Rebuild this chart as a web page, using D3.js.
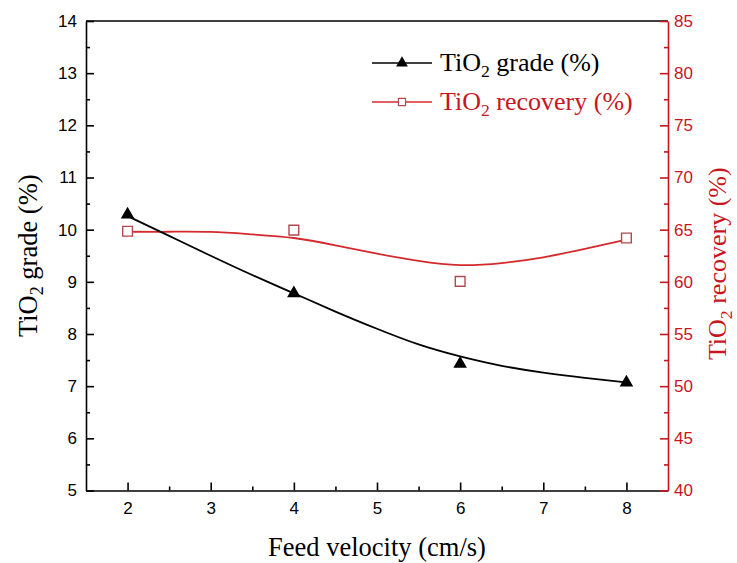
<!DOCTYPE html>
<html><head><meta charset="utf-8">
<script src="https://cdn.jsdelivr.net/npm/d3@7"></script>
<style>body{margin:0;background:#fff}svg{display:block}
.serif{font-family:'Liberation Serif','Times New Roman',Times,serif}
.sans{font-family:'Liberation Sans',Arial,Helvetica,sans-serif}</style>
</head><body>
<svg id="c" width="737" height="563"></svg>
<script>
// ---- data ----
const feedVelocity = [2, 4, 6, 8];
const tio2Grade = [10.29, 8.78, 7.43, 7.07];
const tio2Recovery = [64.85, 64.95, 60.05, 64.2];
// fitted curves
const fitX = [2, 2.5, 3, 3.5, 4, 4.5, 5, 5.5, 6, 6.5, 7, 7.5, 8];
const gradeFit = [10.26, 9.88, 9.5, 9.13, 8.78, 8.43, 8.1, 7.8, 7.57, 7.39, 7.26, 7.16, 7.07];
const recoveryFit = [64.8, 64.8, 64.78, 64.55, 64.2, 63.5, 62.7, 62.0, 61.6, 61.8, 62.35, 63.15, 64.05];
const xTicks = [2, 3, 4, 5, 6, 7, 8];
const xMinor = [2.5, 3.5, 4.5, 5.5, 6.5, 7.5];
const yLeftTicks = [5, 6, 7, 8, 9, 10, 11, 12, 13, 14];
const yLeftMinor = [5.5, 6.5, 7.5, 8.5, 9.5, 10.5, 11.5, 12.5, 13.5];
const yRightTicks = [40, 45, 50, 55, 60, 65, 70, 75, 80, 85];
const yRightMinor = [42.5, 47.5, 52.5, 57.5, 62.5, 67.5, 72.5, 77.5, 82.5];

const RED = "#c8161e", CURVE_RED = "#d42a2e", SQ = "#b04a4e";
const svg = d3.select("#c");
const L = 86, R = 668, T = 21, B = 490.5;
const x = d3.scaleLinear().domain([1.5, 8.5]).range([L, R]);
const yL = d3.scaleLinear().domain([5, 14]).range([B, T]);
const yR = d3.scaleLinear().domain([40, 85]).range([B, T]);

function styleAxis(g, color) {
  g.selectAll("path,line").attr("stroke", color).attr("stroke-width", 1.6);
  g.selectAll("text").attr("fill", color).attr("class", "sans").attr("font-family", null).attr("font-size", 17);
}

// bottom
svg.append("g").attr("transform", `translate(0,${B})`)
  .call(d3.axisBottom(x).tickValues(xTicks).tickFormat(d3.format("d")).tickSizeInner(-8).tickSizeOuter(0).tickPadding(11))
  .call(g => styleAxis(g, "#000"));
svg.append("g").attr("transform", `translate(0,${B})`)
  .call(d3.axisBottom(x).tickValues(xMinor).tickFormat("").tickSizeInner(-4).tickSizeOuter(0))
  .call(g => { styleAxis(g, "#000"); g.select(".domain").remove(); });
// top line
svg.append("line").attr("x1", L).attr("x2", R).attr("y1", T).attr("y2", T).attr("stroke", "#000").attr("stroke-width", 1.6);
// left
svg.append("g").attr("transform", `translate(${L},0)`)
  .call(d3.axisLeft(yL).tickValues(yLeftTicks).tickFormat(d3.format("d")).tickSizeInner(-8).tickSizeOuter(0).tickPadding(9))
  .call(g => styleAxis(g, "#000"));
svg.append("g").attr("transform", `translate(${L},0)`)
  .call(d3.axisLeft(yL).tickValues(yLeftMinor).tickFormat("").tickSizeInner(-4).tickSizeOuter(0))
  .call(g => { styleAxis(g, "#000"); g.select(".domain").remove(); });
// right
svg.append("g").attr("transform", `translate(${R},0)`)
  .call(d3.axisRight(yR).tickValues(yRightTicks).tickFormat(d3.format("d")).tickSizeInner(-8).tickSizeOuter(0).tickPadding(6))
  .call(g => styleAxis(g, RED));
svg.append("g").attr("transform", `translate(${R},0)`)
  .call(d3.axisRight(yR).tickValues(yRightMinor).tickFormat("").tickSizeInner(-4).tickSizeOuter(0))
  .call(g => { styleAxis(g, RED); g.select(".domain").remove(); });

// curves
const gLine = d3.line().x((d, i) => x(fitX[i])).y(d => yL(d)).curve(d3.curveNatural);
const rLine = d3.line().x((d, i) => x(fitX[i])).y(d => yR(d)).curve(d3.curveNatural);
svg.append("path").attr("d", rLine(recoveryFit)).attr("fill", "none").attr("stroke", CURVE_RED).attr("stroke-width", 1.8);
svg.append("path").attr("d", gLine(gradeFit)).attr("fill", "none").attr("stroke", "#000").attr("stroke-width", 1.8);

// markers
const tri = d3.symbol().type(d3.symbolTriangle).size(80);
const sq = d3.symbol().type(d3.symbolSquare).size(95);
svg.selectAll(".sq").data(tio2Recovery).join("path")
  .attr("transform", (d, i) => `translate(${x(feedVelocity[i])},${yR(d)})`)
  .attr("d", sq).attr("fill", "#fff").attr("stroke", SQ).attr("stroke-width", 1.4);
svg.selectAll(".tri").data(tio2Grade).join("path")
  .attr("transform", (d, i) => `translate(${x(feedVelocity[i])},${yL(d)})`)
  .attr("d", tri).attr("fill", "#000");

// legend
function richLabel(sel, before, sub, after) {
  sel.append("tspan").text(before);
  sel.append("tspan").attr("font-size", "0.68em").attr("dy", 6).text(sub);
  sel.append("tspan").attr("dy", -6).text(after);
}
const legendRows = [
  {y: 63, color: "#000", lineColor: "#000", label: ["TiO", "2", " grade (%)"], type: "tri"},
  {y: 102, color: RED, lineColor: CURVE_RED, label: ["TiO", "2", " recovery (%)"], type: "sq"}
];
legendRows.forEach(r => {
  svg.append("line").attr("x1", 372).attr("x2", 432).attr("y1", r.y).attr("y2", r.y).attr("stroke", r.lineColor).attr("stroke-width", 1.6);
  if (r.type === "tri") {
    svg.append("path").attr("transform", `translate(402,${r.y})`).attr("d", d3.symbol().type(d3.symbolTriangle).size(60)).attr("fill", "#000");
  } else {
    svg.append("path").attr("transform", `translate(402,${r.y})`).attr("d", d3.symbol().type(d3.symbolSquare).size(50)).attr("fill", "#fff").attr("stroke", SQ).attr("stroke-width", 1.2);
  }
  const t = svg.append("text").attr("class", "serif").attr("x", 440).attr("y", r.y + 8).attr("font-size", 26).attr("fill", r.color);
  richLabel(t, ...r.label);
});

// axis titles
svg.append("text").attr("class", "serif").attr("x", (L + R) / 2).attr("y", 556).attr("text-anchor", "middle")
  .attr("font-size", 26.5).attr("fill", "#000").text("Feed velocity (cm/s)");
const lt = svg.append("text").attr("class", "serif").attr("transform", `translate(37,${(T + B) / 2}) rotate(-90)`).attr("text-anchor", "middle")
  .attr("font-size", 26.5).attr("fill", "#000");
richLabel(lt, "TiO", "2", " grade (%)");
const rt = svg.append("text").attr("class", "serif").attr("transform", `translate(726,${(T + B) / 2 + 8}) rotate(-90)`).attr("text-anchor", "middle")
  .attr("font-size", 26).attr("fill", RED);
richLabel(rt, "TiO", "2", " recovery (%)");
</script>
</body></html>
